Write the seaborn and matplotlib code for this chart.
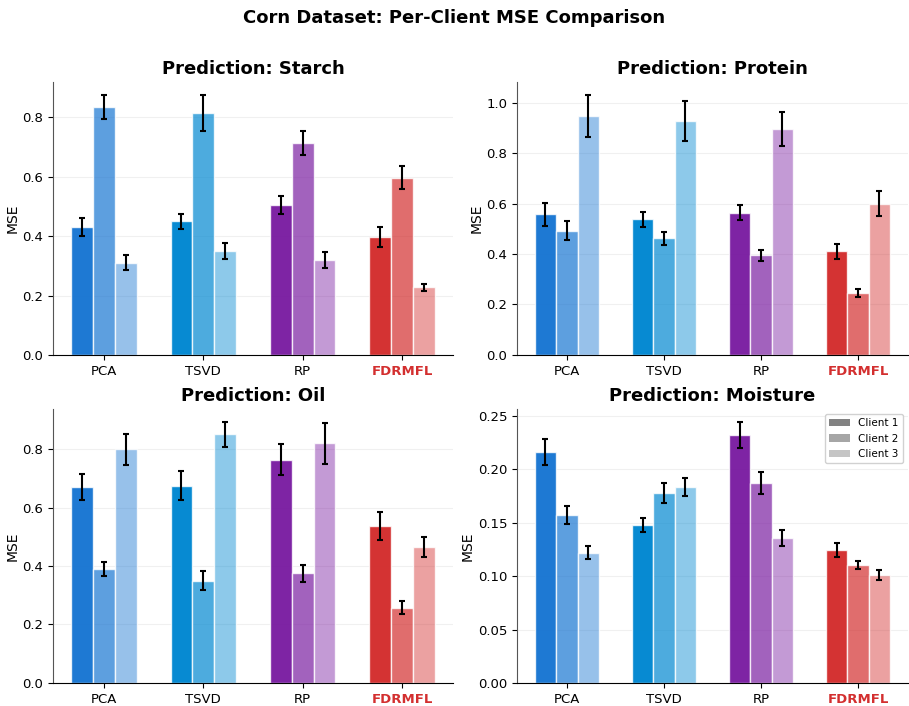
import pandas as pd
import matplotlib
matplotlib.use('Agg')
import matplotlib.pyplot as plt
import seaborn as sns
from matplotlib.patches import Patch
from matplotlib.colors import to_rgba

methods = ['PCA', 'TSVD', 'RP', 'FDRMFL']
clients = ['Client 1', 'Client 2', 'Client 3']
targets = ['Starch', 'Protein', 'Oil', 'Moisture']

# mean MSE per method, one list per client
starch_mean = [[0.430, 0.450, 0.505, 0.397], [0.835, 0.815, 0.713, 0.597], [0.310, 0.350, 0.320, 0.228]]
starch_err = [[0.030, 0.025, 0.030, 0.035], [0.040, 0.060, 0.040, 0.040], [0.025, 0.028, 0.027, 0.012]]
protein_mean = [[0.557, 0.537, 0.563, 0.410], [0.492, 0.462, 0.395, 0.245], [0.946, 0.927, 0.896, 0.600]]
protein_err = [[0.045, 0.030, 0.030, 0.030], [0.038, 0.025, 0.022, 0.017], [0.084, 0.080, 0.068, 0.048]]
oil_mean = [[0.670, 0.675, 0.763, 0.537], [0.390, 0.350, 0.375, 0.257], [0.800, 0.850, 0.820, 0.465]]
oil_err = [[0.043, 0.050, 0.053, 0.047], [0.025, 0.032, 0.030, 0.022], [0.053, 0.042, 0.070, 0.033]]
moisture_mean = [[0.216, 0.148, 0.232, 0.124], [0.157, 0.178, 0.187, 0.110], [0.122, 0.183, 0.136, 0.101]]
moisture_err = [[0.012, 0.0065, 0.012, 0.0065], [0.0085, 0.0095, 0.010, 0.0038], [0.0065, 0.0085, 0.0075, 0.005]]

all_means = [starch_mean, protein_mean, oil_mean, moisture_mean]
all_errs = [starch_err, protein_err, oil_err, moisture_err]

method_colors = {'PCA': '#1976D2', 'TSVD': '#0288D1', 'RP': '#7B1FA2', 'FDRMFL': '#D32F2F'}
client_alpha = [0.98, 0.7, 0.45]

fig, axes = plt.subplots(2, 2, figsize=(9.09, 7.06), dpi=100)
positions = [[0.0583, 0.4972, 0.440, 0.3867], [0.5688, 0.4972, 0.430, 0.3867],
             [0.0583, 0.0326, 0.440, 0.388], [0.5688, 0.0326, 0.430, 0.388]]

for k, ax in enumerate(axes.flat):
    ax.set_position(positions[k])
    rows = []
    for c in range(3):
        for m in range(4):
            rows.append({'Method': methods[m], 'Client': clients[c], 'MSE': all_means[k][c][m]})
    df = pd.DataFrame(rows)
    sns.barplot(data=df, x='Method', y='MSE', hue='Client', order=methods, hue_order=clients,
                width=0.66, errorbar=None, edgecolor='white', linewidth=1, legend=False, ax=ax)

    bar_groups = list(ax.containers)
    for c, cont in enumerate(bar_groups):
        xs = []
        for m, bar in enumerate(cont.patches):
            bar.set_facecolor(to_rgba(method_colors[methods[m]], client_alpha[c]))
            bar.set_edgecolor(to_rgba('white', 0.8))
            xs.append(bar.get_x() + bar.get_width() / 2)
        ax.errorbar(xs, all_means[k][c], yerr=all_errs[k][c], fmt='none', ecolor='black',
                    elinewidth=1.5, capsize=2, capthick=1.5, zorder=5)

    ax.margins(y=0.05)
    ax.set_ylim(bottom=0)
    ax.set_title(f'Prediction: {targets[k]}', fontsize=13, fontweight='bold')
    ax.set_xlabel('')
    ax.set_ylabel('MSE', fontsize=10, labelpad=2)
    ax.tick_params(labelsize=9.5)
    ax.yaxis.grid(True, color='#e6e6e6', linewidth=0.8, alpha=0.6)
    ax.set_axisbelow(True)
    sns.despine(ax=ax)
    ax.spines['left'].set_color('#555555')
    for lbl in ax.get_xticklabels():
        if lbl.get_text() == 'FDRMFL':
            lbl.set_color('#D32F2F')
            lbl.set_fontweight('bold')

legend_handles = [Patch(facecolor=to_rgba('gray', a), label=cl) for cl, a in zip(clients, client_alpha)]
axes[1, 1].legend(handles=legend_handles, loc='upper right', fontsize=7.5, framealpha=0.9)

fig.suptitle('Corn Dataset: Per-Client MSE Comparison', fontsize=13, fontweight='bold', y=0.987)

plt.savefig('out.png', dpi=100)
